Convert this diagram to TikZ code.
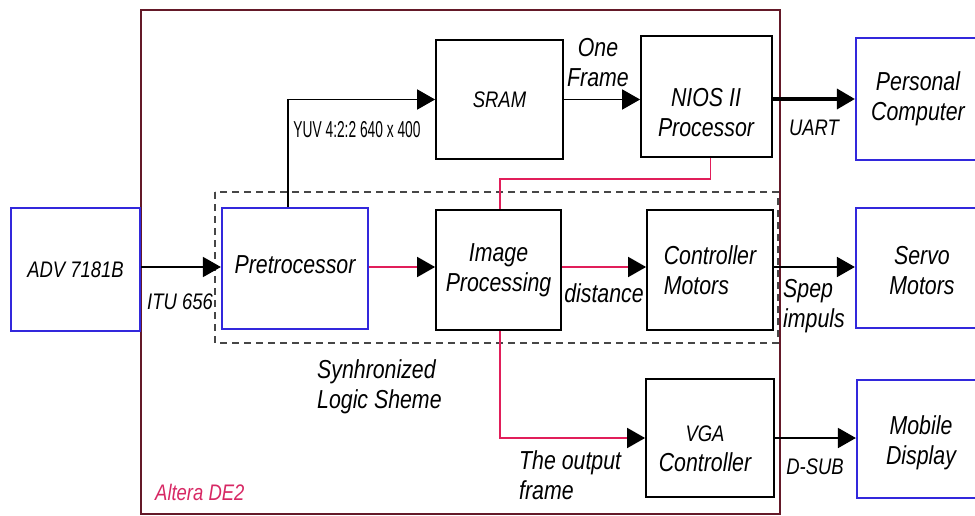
\documentclass[tikz,border=0pt]{standalone}
\usepackage{fontspec}
\setmainfont{Liberation Sans}[FakeStretch=0.82]
\usetikzlibrary{arrows.meta}
\definecolor{boxblue}{RGB}{50,40,220}
\definecolor{lred}{RGB}{225,30,90}
\definecolor{framec}{RGB}{100,25,40}
\definecolor{pinktext}{RGB}{215,40,100}
\definecolor{dashgray}{RGB}{70,70,70}
\begin{document}
\begin{tikzpicture}[x=1pt,y=-1pt,
  bx/.style={draw=black, line width=1.8pt, inner sep=0pt, fill=white},
  bb/.style={draw=boxblue, line width=2.2pt, inner sep=0pt, fill=white},
  txt/.style={font=\fontsize{26}{30}\selectfont\itshape, align=center, inner sep=0pt},
  sml/.style={font=\fontsize{22.5}{26}\selectfont\itshape, align=center, inner sep=0pt},
  tip/.style={-{Triangle[length=18pt,width=20pt,color=black]}},
  conn/.style={line width=1.8pt, draw=black, tip},
  rconn/.style={line width=1.8pt, draw=lred},
  dashbox/.style={draw=dashgray, line width=1.8pt, dash pattern=on 7pt off 5pt},
  framebox/.style={draw=framec, line width=1.6pt}
]
\useasboundingbox (0,0) rectangle (975,516);
\clip (0,0) rectangle (975,516);

% outer frame and dashed region
\draw[framebox] (141,10) rectangle (780,514);
\draw[dashbox] (215,192) rectangle (778,343);

% boxes
\node[bb, minimum width=129pt, minimum height=123pt, sml] (adv) at (75.5,269.5) {ADV 7181B};
\node[bb, minimum width=146pt, minimum height=121pt] (pre) at (295,268.5) {};
\node[bx, minimum width=127pt, minimum height=119pt, sml] (sram) at (499.5,99.5) {SRAM};
\node[bx, minimum width=131pt, minimum height=121pt] (nios) at (706.5,96.5) {};
\node[bb, minimum width=124pt, minimum height=122pt, txt] (pc) at (918,99) {Personal\\Computer};
\node[bx, minimum width=125pt, minimum height=120pt, txt] (img) at (498.5,270) {Image\\Processing};
\node[bx, minimum width=126pt, minimum height=120pt, txt, align=left] (ctrl) at (710,270) {Controller\\Motors};
\node[bb, minimum width=132pt, minimum height=120pt] (servo) at (922,268) {};
\node[bx, minimum width=128pt, minimum height=118pt] (vga) at (710,438) {};
\node[bb, minimum width=128pt, minimum height=118pt] (mob) at (921,439) {};

% texts inside boxes (offset)
\node[txt] (pret) at (295,265) {Pretrocessor};
\node[txt] (niost) at (706,113) {NIOS II\\Processor};
\node[txt] (servot) at (922,271) {Servo\\Motors};
\node[txt] (vgat) at (705,449) {{\fontsize{22.5}{30}\selectfont VGA}\\Controller};
\node[txt] (mobt) at (921,443) {Mobile\\Display};

% connectors
\draw[conn] ([yshift=1.5pt]pre.west -| adv.east) -- ([yshift=1.5pt]pre.west);
\draw[conn] ([xshift=-7pt]pre.north) |- (sram.west);
\draw[rconn, tip] ([yshift=1.5pt]pre.east) -- ([yshift=1.5pt]pre.east -| img.west);
\draw[conn] (sram.east) -- (sram.east -| nios.west);
\draw[conn, line width=3.5pt] (pc.west -| nios.east) -- (pc.west);
\draw[rconn] ([xshift=4pt]nios.south) -- ++(0,21) -| ([xshift=1.5pt]img.north);
\draw[rconn, tip] ([yshift=3pt]img.east) -- ([yshift=3pt]img.east -| ctrl.west);
\draw[conn] ([yshift=3pt]ctrl.east) -- ([yshift=3pt]ctrl.east -| servo.west);
\draw[rconn, tip] ([xshift=1.5pt]img.south) |- (vga.west);
\draw[conn] (vga.east) -- (vga.east -| mob.west);

% labels
\node[sml] (itu) at (180,302) {ITU 656};
\node[inner sep=0pt, font=\fontsize{23}{26}\selectfont] (yuv) at (357,130) {\scalebox{0.73}[1]{YUV 4:2:2 640 x 400}};
\node[txt] (one) at (598,63) {One\\Frame};
\node[sml] (uart) at (814,128) {UART};
\node[txt] (dist) at (604,293) {distance};
\node[txt, align=left, anchor=west] (spep) at (783,306) {Spep\\impuls};
\node[txt, align=left, anchor=west] (outp) at (519,475) {The output\\frame};
\node[sml] (dsub) at (815,467) {D-SUB};
\node[txt, align=left, anchor=west] (sync) at (317,387) {Synhronized\\Logic Sheme};
\node[sml, anchor=west, text=pinktext] (altera) at (155,492) {Altera DE2};
\end{tikzpicture}
\end{document}
